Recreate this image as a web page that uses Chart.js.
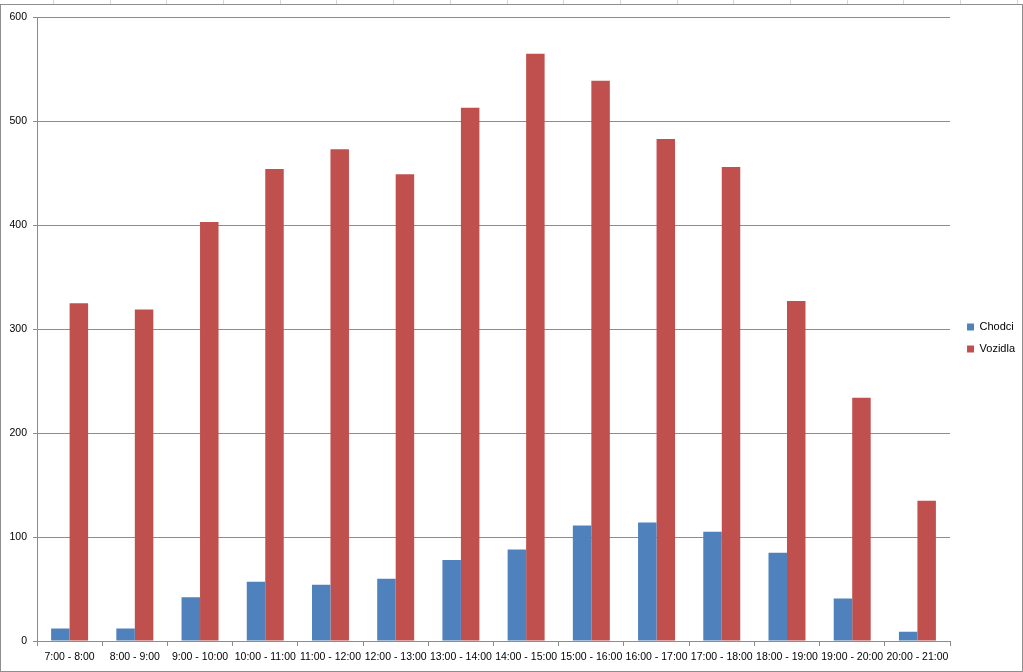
<!DOCTYPE html>
<html>
<head>
<meta charset="utf-8">
<script src="https://cdn.jsdelivr.net/npm/chart.js@4.4.0/dist/chart.umd.min.js"></script>
<style>
  body { margin: 0; background: #fff; }
  #sheet {
    position: absolute; left: 0; top: 0; width: 1023px; height: 8px;
    background: repeating-linear-gradient(to right, transparent 0, transparent 53px, #d6d6d6 53px, #d6d6d6 54px, transparent 54px, transparent 56.7px);
  }
  #frame {
    position: absolute; left: 0; top: 4px; width: 1021px; height: 666px;
    border: 1px solid #8e8e8e; background: #fff;
  }
  canvas { display: block; }
</style>
</head>
<body>
<div id="sheet"></div>
<div id="frame"><canvas id="chart" width="1021" height="666"></canvas></div>
<script>
const hours = ['7:00 - 8:00', '8:00 - 9:00', '9:00 - 10:00', '10:00 - 11:00', '11:00 - 12:00',
    '12:00 - 13:00', '13:00 - 14:00', '14:00 - 15:00', '15:00 - 16:00', '16:00 - 17:00',
    '17:00 - 18:00', '18:00 - 19:00', '19:00 - 20:00', '20:00 - 21:00'];
const chodci = [12, 12, 42, 57, 54, 60, 78, 88, 111, 114, 105, 85, 41, 9];
const vozidla = [325, 319, 403, 454, 473, 449, 513, 565, 539, 483, 456, 327, 234, 135];
const yMax = 600;
const yStep = 100;

const font = { family: 'Liberation Sans', size: 10.5 };
const gridColor = '#8c8c8c';

// nudge the legend up and to the right, like the excel one
const legendShift = {
    id: 'legendShift',
    afterLayout(chart) {
        chart.legend.top -= 6;
        chart.legend.bottom -= 6;
        chart.legend.left += 6;
        chart.legend.right += 6;
    },
};

const ctx = document.getElementById('chart').getContext('2d');
new Chart(ctx, {
    type: 'bar',
    data: {
        labels: hours,
        datasets: [
            { label: 'Chodci', data: chodci, backgroundColor: '#4f81bd' },
            { label: 'Vozidla', data: vozidla, backgroundColor: '#c0504d' },
        ],
    },
    options: {
        responsive: false,
        animation: false,
        datasets: { bar: { categoryPercentage: 0.567, barPercentage: 1 } },
        layout: { padding: { top: 12, left: 0, right: 3, bottom: 0 } },
        plugins: {
            legend: {
                position: 'right',
                labels: { font: { family: 'Liberation Sans', size: 11 }, color: '#000', boxWidth: 7, boxHeight: 7, padding: 11 },
            },
            tooltip: { enabled: false },
        },
        scales: {
            x: {
                grid: { offset: true, drawOnChartArea: false, color: gridColor, tickLength: 5 },
                border: { color: gridColor },
                ticks: { font: font, color: '#000', maxRotation: 0, autoSkip: false, padding: 5 },
                afterFit: scale => { scale.height = 30; },
            },
            y: {
                min: 0,
                max: yMax,
                grid: { color: gridColor, tickLength: 4 },
                border: { color: gridColor },
                ticks: { stepSize: yStep, font: font, color: '#000', padding: 6 },
                afterFit: scale => { scale.width = 36; },
            },
        },
    },
    plugins: [legendShift],
});
</script>
</body>
</html>
